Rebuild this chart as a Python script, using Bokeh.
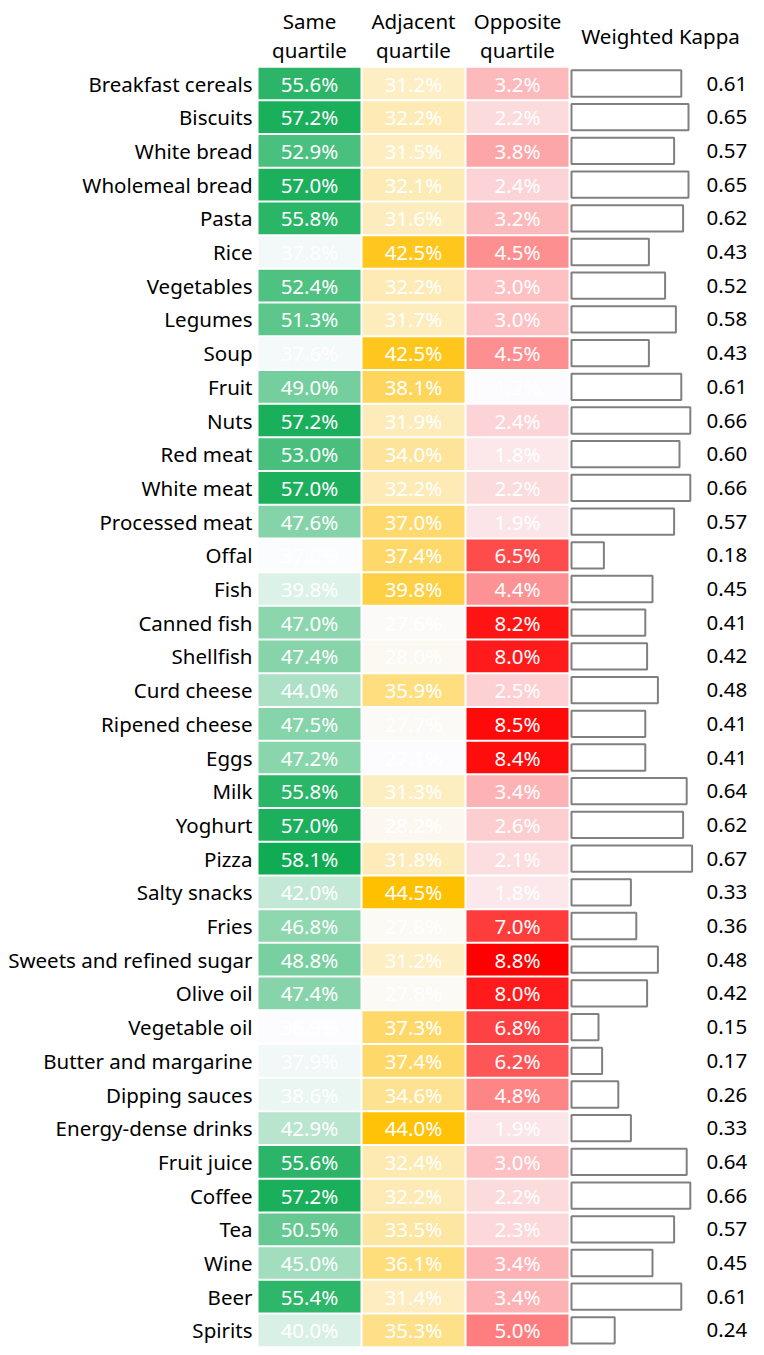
from bokeh.plotting import figure
from bokeh.models import Range1d, ColumnDataSource
from bokeh.core.properties import value
from bokeh.embed import file_html
from bokeh.resources import INLINE

foods = ["Breakfast cereals", "Biscuits", "White bread", "Wholemeal bread", "Pasta", "Rice",
         "Vegetables", "Legumes", "Soup", "Fruit", "Nuts", "Red meat", "White meat",
         "Processed meat", "Offal", "Fish", "Canned fish", "Shellfish", "Curd cheese",
         "Ripened cheese", "Eggs", "Milk", "Yoghurt", "Pizza", "Salty snacks", "Fries",
         "Sweets and refined sugar", "Olive oil", "Vegetable oil", "Butter and margarine",
         "Dipping sauces", "Energy-dense drinks", "Fruit juice", "Coffee", "Tea", "Wine",
         "Beer", "Spirits"]
same_q = [55.6, 57.2, 52.9, 57.0, 55.8, 37.8, 52.4, 51.3, 37.6, 49.0, 57.2, 53.0, 57.0,
          47.6, 37.0, 39.8, 47.0, 47.4, 44.0, 47.5, 47.2, 55.8, 57.0, 58.1, 42.0, 46.8,
          48.8, 47.4, 36.9, 37.9, 38.6, 42.9, 55.6, 57.2, 50.5, 45.0, 55.4, 40.0]
adjacent_q = [31.2, 32.2, 31.5, 32.1, 31.6, 42.5, 32.2, 31.7, 42.5, 38.1, 31.9, 34.0, 32.2,
              37.0, 37.4, 39.8, 27.6, 28.0, 35.9, 27.7, 27.1, 31.3, 28.2, 31.8, 44.5, 27.8,
              31.2, 27.8, 37.3, 37.4, 34.6, 44.0, 32.4, 32.2, 33.5, 36.1, 31.4, 35.3]
opposite_q = [3.2, 2.2, 3.8, 2.4, 3.2, 4.5, 3.0, 3.0, 4.5, 1.2, 2.4, 1.8, 2.2, 1.9, 6.5,
              4.4, 8.2, 8.0, 2.5, 8.5, 8.4, 3.4, 2.6, 2.1, 1.8, 7.0, 8.8, 8.0, 6.8, 6.2,
              4.8, 1.9, 3.0, 2.2, 2.3, 3.4, 3.4, 5.0]
kappa = [0.61, 0.65, 0.57, 0.65, 0.62, 0.43, 0.52, 0.58, 0.43, 0.61, 0.66, 0.60, 0.66,
         0.57, 0.18, 0.45, 0.41, 0.42, 0.48, 0.41, 0.41, 0.64, 0.62, 0.67, 0.33, 0.36,
         0.48, 0.42, 0.15, 0.17, 0.26, 0.33, 0.64, 0.66, 0.57, 0.45, 0.61, 0.24]
headers = [("Same", "quartile"), ("Adjacent", "quartile"), ("Opposite", "quartile")]

FONT = value("Noto Sans")
FS = "20.5px"
W, H = 756, 1347
ROW = 33.7
TOP = 83.0  # px of first row centre

def scale(vals, hi):
    lo_c = (252, 252, 255)
    mn, mx = min(vals), max(vals)
    out = []
    for v in vals:
        t = (v - mn) / (mx - mn)
        c = tuple(round(lo_c[k] + (hi[k] - lo_c[k]) * t) for k in range(3))
        out.append("#%02x%02x%02x" % c)
    return out

p = figure(width=W, height=H, output_backend="svg", toolbar_location=None,
           x_range=Range1d(0, W), y_range=Range1d((H - TOP) / ROW, -TOP / ROW),
           min_border=0, outline_line_color=None)
p.axis.visible = False
p.grid.visible = False

n = len(foods)
rows = list(range(n))
col_x = [309, 413, 517]
col_vals = [same_q, adjacent_q, opposite_q]
col_hi = [(16, 172, 84), (255, 192, 0), (255, 0, 0)]

for cx, vals, hi in zip(col_x, col_vals, col_hi):
    src = ColumnDataSource(dict(y=rows, x=[cx] * n, c=scale(vals, hi),
                                t=["%.1f%%" % v for v in vals]))
    p.rect(x="x", y="y", width=102, height=0.94, fill_color="c", line_color=None, source=src)
    p.text(x="x", y="y", text="t", source=src, text_color="white", text_font=FONT,
           text_font_size=FS, text_align="center", text_baseline="middle")

# category labels
p.text(x=[252] * n, y=rows, text=foods, text_font=FONT, text_font_size=FS,
       text_align="right", text_baseline="middle", text_color="black")

# kappa bars
KX0, KSCALE = 571, 180
ksrc = ColumnDataSource(dict(y=rows, left=[KX0] * n, right=[KX0 + k * KSCALE for k in kappa]))
p.hbar(y="y", left="left", right="right", height=0.78,
       fill_color="white", line_color="#808080", line_width=2, source=ksrc)
p.text(x=[706] * n, y=rows, text=["%.2f" % k for k in kappa], text_font=FONT,
       text_font_size=FS, text_align="left", text_baseline="middle", text_color="black")

# headers
for cx, (a, b) in zip(col_x, headers):
    p.text(x=[cx, cx], y=[-1.86, -0.98], text=[a, b], text_font=FONT, text_font_size=FS,
           text_align="center", text_baseline="middle", text_color="black")
p.text(x=[660], y=[-1.4], text=["Weighted Kappa"], text_font=FONT, text_font_size=FS,
       text_align="center", text_baseline="middle", text_color="black")

open("out.html", "w").write(file_html(p, INLINE))
